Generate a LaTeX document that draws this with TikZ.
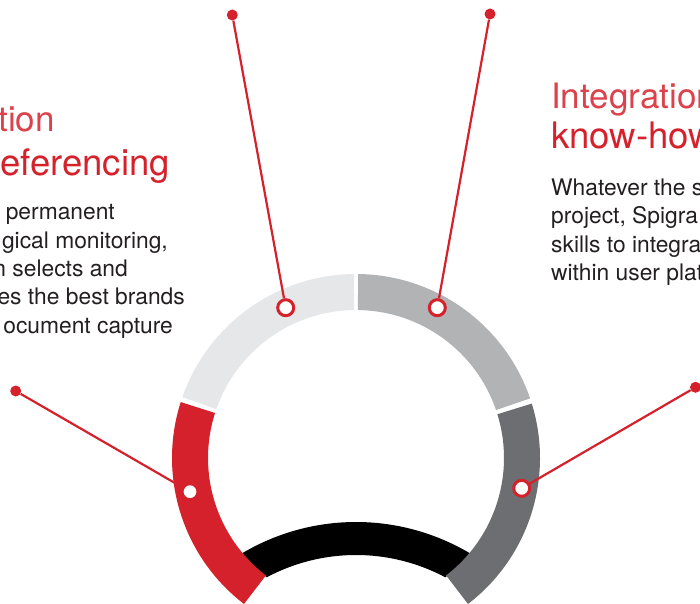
\documentclass[tikz,border=0pt]{standalone}
\usepackage{fontspec}
\setmainfont{TeX Gyre Heros}
\definecolor{brandred}{RGB}{213,33,43}
\definecolor{ringlight}{RGB}{230,231,232}
\definecolor{ringmid}{RGB}{177,179,181}
\definecolor{ringdark}{RGB}{109,110,113}
\definecolor{bodytext}{RGB}{35,31,32}
\begin{document}
\begin{tikzpicture}[x=1pt,y=1pt,
    connector/.style={draw=brandred, line width=2.2pt},
    enddot/.style={circle, fill=brandred, inner sep=0pt, minimum size=11pt},
    marker/.style={circle, draw=brandred, fill=white, line width=3pt, inner sep=0pt, minimum size=16pt},
    headlight/.style={text=brandred!85, font=\fontsize{35}{40}\selectfont, inner sep=0pt},
    headbold/.style={text=brandred, font=\fontsize{36.5}{40}\selectfont, inner sep=0pt},
    body/.style={text=bodytext, font=\fontsize{22.8}{28.3}\selectfont, inner sep=0pt}]
    \useasboundingbox (0,0) rectangle (700,603);
    \clip (0,0) rectangle (700,603);

    % Black band, cut by the inner circle of the ring
    \begin{scope}
      \clip (356,145) circle (149);
      \begin{scope}[shift={(356,-142)}]
        \fill[black] (35:223) arc[start angle=35, end angle=145, radius=223]
          -- (145:190) arc[start angle=145, end angle=35, radius=190] -- cycle;
      \end{scope}
    \end{scope}

    % Ring segments
    \begin{scope}[shift={(356,145)}]
      \foreach \a/\b/\col in {90.7/160.7/ringlight, 18.9/89.3/ringmid, 162.3/232.5/brandred, -52.5/17.2/ringdark} {
        \fill[\col] (\a:184) arc[start angle=\a, end angle=\b, radius=184]
          -- (\b:148) arc[start angle=\b, end angle=\a, radius=148] -- cycle;
      }
    \end{scope}

    % Markers on the ring and end dots
    \node[marker] (mL) at (190,111.3) {};
    \node[marker] (mTL) at (285.7,295.3) {};
    \node[marker] (mTR) at (437.3,295.3) {};
    \node[marker] (mR) at (521.7,114.7) {};
    \node[enddot] (dL) at (15.7,212) {};
    \node[enddot] (dTL) at (232.3,588) {};
    \node[enddot] (dTR) at (490,589) {};
    \node[enddot] (dR) at (695.5,215.7) {};

    % Connectors
    \draw[connector] (dL) -- (mL);
    \draw[connector] (dTL) -- (mTL);
    \draw[connector] (dTR) -- (mTR);
    \draw[connector] (dR) -- (mR);

    % Left text
    \node[headlight, anchor=base east] (hL1) at (55,471.3) {tion};
    \node[headbold, anchor=base east] (hL2) at (170,427.5) {eferencing};
    \foreach \txt/\xe/\yb [count=\i] in {permanent/115/383, {gical monitoring,}/168/354.7,
        {n selects and}/128/326.4, {es the best brands}/185/298.1, {ocument capture}/173/269.8} {
      \node[body, anchor=base east] (bL\i) at (\xe,\yb) {\txt};
    }

    % Right text
    \node[headlight, anchor=base west] (hR1) at (551,494.7) {Integration};
    \node[headbold, anchor=base west] (hR2) at (551,454.7) {know-how};
    \foreach \txt/\yb [count=\i] in {{Whatever the s}/407.5, {project, Spigra}/379.2,
        {skills to integra}/350.9, {within user plat}/322.6} {
      \node[body, anchor=base west] (bR\i) at (551,\yb) {\txt};
    }
\end{tikzpicture}
\end{document}
